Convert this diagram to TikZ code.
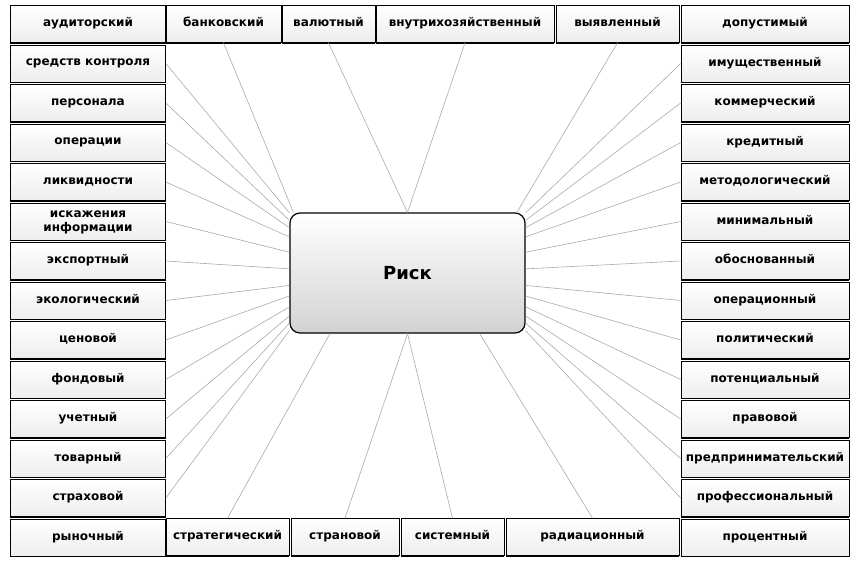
\documentclass[tikz,border=0pt]{standalone}
\usepackage{fontspec}
\setmainfont{DejaVu Sans}
\usetikzlibrary{calc}

\tikzset{
  lbl/.style={draw=black, line width=0.6pt, top color=white, bottom color=gray!14,
    inner sep=0pt, align=center, minimum height=37pt,
    font=\fontsize{12}{12}\selectfont\bfseries},
  ray/.style={draw=gray!50!black!45, line width=0.6pt},
  boxfoot/.style={line width=1.6pt},
}

\begin{document}
\begin{tikzpicture}[x=1pt, y=-1pt]
\useasboundingbox (0,0) rectangle (854,565);
% central box
\node[draw, line width=1.2pt, rounded corners=10pt, top color=white, bottom color=gray!35,
  minimum width=235pt, minimum height=120pt, font=\fontsize{18}{20}\selectfont\bfseries]
  (risk) at (407.5,273) {Риск};

% left column
\foreach \txt [count=\i from 0] in {аудиторский, средств контроля, персонала, операции,
    ликвидности, {искажения\\информации}, экспортный, экологический, ценовой, фондовый,
    учетный, товарный, страховой, рыночный}
  \node[lbl, minimum width=155pt] (l\i) at (88,24+39.5*\i) {\strut\txt};

% right column
\foreach \txt [count=\i from 0] in {допустимый, имущественный, коммерческий, кредитный,
    методологический, минимальный, обоснованный, операционный, политический, потенциальный,
    правовой, предпринимательский, профессиональный, процентный}
  \node[lbl, minimum width=168pt] (r\i) at (765,24+39.5*\i) {\strut\txt};

% top row
\node[lbl, minimum width=115pt] (t1) at (223.5,24) {\strut банковский};
\node[lbl, minimum width=93pt] (t2) at (328.5,24) {\strut валютный};
\node[lbl, minimum width=178pt] (t3) at (465,24) {\strut внутрихозяйственный};
\node[lbl, minimum width=123pt] (t4) at (617.5,24) {\strut выявленный};

% bottom row
\node[lbl, minimum width=123pt] (b1) at (227.5,537) {\strut стратегический};
\node[lbl, minimum width=108pt] (b2) at (345,537) {\strut страновой};
\node[lbl, minimum width=103pt] (b3) at (452.5,537) {\strut системный};
\node[lbl, minimum width=173pt] (b4) at (592.5,537) {\strut радиационный};

% thick lower edges
\foreach \i in {0,...,13} {
  \draw[boxfoot] (l\i.south west) -- (l\i.south east);
  \draw[boxfoot] (r\i.south west) -- (r\i.south east);
}
\foreach \n in {t1,t2,t3,t4,b1,b2,b3,b4}
  \draw[boxfoot] (\n.south west) -- (\n.south east);

% rays to the centre
\foreach \i/\a in {1/153, 2/156, 3/159, 4/163, 5/170, 6/178, 7/186, 8/191,
    9/196, 10/200, 11/203, 12/206}
  \draw[ray] (l\i.east) -- (risk.\a);
\foreach \i/\a in {1/27, 2/24, 3/21, 4/17, 5/10, 6/2, 7/-6, 8/-11,
    9/-16, 10/-20, 11/-23, 12/-26}
  \draw[ray] (r\i.west) -- (risk.\a);
\draw[ray] (t1.south) -- (risk.152);
\draw[ray] (t2.south) -- (risk.north);
\draw[ray] (t3.south) -- (risk.north);
\draw[ray] (t4.south) -- (risk.29);
\draw[ray] (b1.north) -- (risk.218);
\draw[ray] (b2.north) -- (risk.south);
\draw[ray] (b3.north) -- (risk.south);
\draw[ray] (b4.north) -- (risk.-40);
\end{tikzpicture}
\end{document}
